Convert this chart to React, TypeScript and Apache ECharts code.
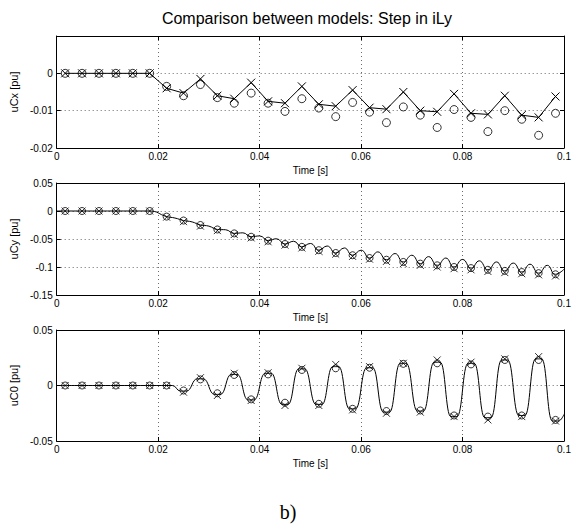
import React, { useEffect, useRef } from "react";
import * as echarts from "echarts";

const tMarks = [0.00167, 0.005, 0.00833, 0.01167, 0.015, 0.01833, 0.02167, 0.025, 0.02833, 0.03167, 0.035, 0.03833, 0.04167, 0.045, 0.04833, 0.05167, 0.055, 0.05833, 0.06167, 0.065, 0.06833, 0.07167, 0.075, 0.07833, 0.08167, 0.085, 0.08833, 0.09167, 0.095, 0.09833];

// uCx
const uCxCross = [0, 0, 0, 0, 0, 0, -0.004, -0.0053, -0.0015, -0.006, -0.0068, -0.0025, -0.0075, -0.008, -0.0035, -0.0083, -0.0088, -0.0045, -0.0092, -0.0096, -0.005, -0.01, -0.0103, -0.0055, -0.0107, -0.011, -0.006, -0.0112, -0.0118, -0.0062];
const uCxCircle = [0, 0, 0, 0, 0, 0, -0.0035, -0.006, -0.003, -0.0065, -0.008, -0.0053, -0.008, -0.0102, -0.0068, -0.0093, -0.0116, -0.0078, -0.0104, -0.0132, -0.009, -0.0112, -0.0145, -0.0097, -0.0118, -0.0156, -0.01, -0.0123, -0.0166, -0.0107];

// uCy
const uCyCircle = [0, 0, 0, 0, 0, 0, -0.01, -0.017, -0.025, -0.033, -0.04, -0.046, -0.053, -0.059, -0.064, -0.07, -0.075, -0.079, -0.084, -0.087, -0.091, -0.094, -0.097, -0.1, -0.102, -0.105, -0.107, -0.109, -0.111, -0.113];
const uCyCross = [0, 0, 0, 0, 0, 0, -0.011, -0.019, -0.027, -0.035, -0.042, -0.048, -0.055, -0.061, -0.066, -0.072, -0.077, -0.081, -0.086, -0.09, -0.094, -0.097, -0.1, -0.103, -0.105, -0.108, -0.11, -0.112, -0.114, -0.116];
const uCyLineT = [0, 0.0183, 0.0217, 0.0233, 0.025, 0.0267, 0.0283, 0.03, 0.0317, 0.0333, 0.035, 0.0367, 0.0383, 0.04, 0.0417, 0.0433, 0.045, 0.0467, 0.0483, 0.05, 0.0517, 0.0533, 0.055, 0.0567, 0.0583, 0.06, 0.0617, 0.0633, 0.065, 0.0667, 0.0683, 0.07, 0.0717, 0.0733, 0.075, 0.0767, 0.0783, 0.08, 0.0817, 0.0833, 0.085, 0.0867, 0.0883, 0.09, 0.0917, 0.0933, 0.095, 0.0967, 0.0983, 0.1];
const uCyLineV = [0, 0, -0.01, -0.0125, -0.017, -0.0195, -0.025, -0.027, -0.033, -0.0335, -0.04, -0.039, -0.046, -0.0445, -0.053, -0.0495, -0.059, -0.054, -0.064, -0.058, -0.07, -0.0625, -0.075, -0.066, -0.079, -0.07, -0.084, -0.073, -0.087, -0.076, -0.091, -0.079, -0.094, -0.0815, -0.097, -0.084, -0.1, -0.0865, -0.102, -0.089, -0.105, -0.091, -0.107, -0.093, -0.109, -0.095, -0.111, -0.097, -0.113, -0.104];

// uC0
const uC0Circle = [0, 0, 0, 0, 0, 0, 0, -0.0045, 0.0055, -0.007, 0.0095, -0.0125, 0.01, -0.0155, 0.014, -0.0165, 0.0155, -0.021, 0.016, -0.023, 0.0195, -0.0225, 0.02, -0.027, 0.019, -0.028, 0.023, -0.027, 0.023, -0.031];
const uC0Cross = [0, 0, 0, 0, 0, 0, 0, -0.006, 0.007, -0.009, 0.011, -0.0135, 0.0115, -0.018, 0.0155, -0.018, 0.019, -0.022, 0.017, -0.025, 0.02, -0.024, 0.023, -0.028, 0.021, -0.031, 0.024, -0.028, 0.026, -0.032];
const uC0LineT = [0, 0.0228, 0.0244, 0.0256, 0.0277, 0.0289, 0.0311, 0.0323, 0.0344, 0.0356, 0.0377, 0.0389, 0.0411, 0.0423, 0.0444, 0.0456, 0.0477, 0.0489, 0.0511, 0.0523, 0.0544, 0.0556, 0.0577, 0.0589, 0.0611, 0.0623, 0.0644, 0.0656, 0.0677, 0.0689, 0.0711, 0.0723, 0.0744, 0.0756, 0.0777, 0.0789, 0.0811, 0.0823, 0.0844, 0.0856, 0.0877, 0.0889, 0.0911, 0.0923, 0.0944, 0.0956, 0.0977, 0.0989, 0.1];
const uC0LineV = [0, 0, -0.005, -0.005, 0.006, 0.006, -0.008, -0.008, 0.01, 0.01, -0.013, -0.013, 0.011, 0.011, -0.017, -0.017, 0.015, 0.015, -0.017, -0.017, 0.017, 0.017, -0.021, -0.021, 0.016, 0.016, -0.024, -0.024, 0.02, 0.02, -0.023, -0.023, 0.021, 0.021, -0.028, -0.028, 0.02, 0.02, -0.029, -0.029, 0.023, 0.023, -0.027, -0.027, 0.024, 0.024, -0.032, -0.032, -0.026];

const xTicks = [0, 0.1, 0.02];
const yNames = ["uCx [pu]", "uCy [pu]", "uC0 [pu]"];
const yRanges = [
  [-0.02, 0.01, 0.01],
  [-0.15, 0.05, 0.05],
  [-0.05, 0.05, 0.05],
];

const FONT = "Liberation Sans";
const CROSS = "path://M0 0L10 10M10 0L0 10";

export default function App() {
  const ref = useRef<HTMLDivElement>(null);
  useEffect(() => {
    if (!ref.current) return;
    const chart = echarts.init(ref.current, undefined, { renderer: "svg" });
    const grids = [
      { left: 50, right: 12, top: 36, height: 112 },
      { left: 50, right: 12, top: 183, height: 112 },
      { left: 50, right: 12, top: 330, height: 111 },
    ];
    const grid = "#444";
    const xAxes: any[] = [];
    const yAxes: any[] = [];
    grids.forEach((_, i) => {
      xAxes.push({
        type: "value", gridIndex: i, min: xTicks[0], max: xTicks[1], interval: xTicks[2],
        name: "Time [s]", nameLocation: "middle", nameGap: 17,
        nameTextStyle: { fontFamily: FONT, fontSize: 10, color: "#000" },
        axisLine: { onZero: false, lineStyle: { color: "#000", width: 1 } },
        axisTick: { inside: true, length: 4, lineStyle: { color: "#000" } },
        axisLabel: { fontFamily: FONT, fontSize: 10, color: "#000", margin: 3 },
        splitLine: { show: true, lineStyle: { color: grid, type: [1, 3], width: 0.8 } },
      });
      xAxes.push({
        type: "value", gridIndex: i, min: xTicks[0], max: xTicks[1], interval: xTicks[2], position: "top",
        axisLine: { show: true, onZero: false, lineStyle: { color: "#000", width: 1 } },
        axisTick: { inside: true, length: 4, lineStyle: { color: "#000" } },
        axisLabel: { show: false }, splitLine: { show: false },
      });
      const [mn, mx, iv] = yRanges[i];
      yAxes.push({
        type: "value", gridIndex: i, min: mn, max: mx, interval: iv,
        name: yNames[i], nameLocation: "middle", nameGap: 31, nameRotate: 90,
        nameTextStyle: { fontFamily: FONT, fontSize: 11, color: "#000" },
        axisLine: { show: true, onZero: false, lineStyle: { color: "#000", width: 1 } },
        axisTick: { show: true, inside: true, length: 4, lineStyle: { color: "#000" } },
        axisLabel: {
          fontFamily: FONT, fontSize: 10, color: "#000", margin: 4,
          formatter: (v: number) => (i === 0 && v > 0.005 ? "" : String(Math.round(v * 1000) / 1000)),
        },
        splitLine: { show: true, lineStyle: { color: grid, type: [1, 3], width: 0.8 } },
      });
      yAxes.push({
        type: "value", gridIndex: i, min: mn, max: mx, interval: iv, position: "right",
        axisLine: { show: true, onZero: false, lineStyle: { color: "#000", width: 1 } },
        axisTick: { show: true, inside: true, length: 4, lineStyle: { color: "#000" } },
        axisLabel: { show: false }, splitLine: { show: false },
      });
    });

    const pairs = (t: number[], v: number[]) => t.map((x, k) => [x, v[k]]);
    const markerScatter = (i: number, vals: number[], symbol: string, size: number) => ({
      type: "scatter", xAxisIndex: i * 2, yAxisIndex: i * 2, data: pairs(tMarks, vals),
      symbol, symbolSize: size, z: 5,
      itemStyle: { color: "transparent", borderColor: "#000", borderWidth: 1 },
    });
    const lineStyle = { color: "#000", width: 1 };

    const series: any[] = [
      {
        type: "line", xAxisIndex: 0, yAxisIndex: 0, data: pairs(tMarks, uCxCross),
        symbol: CROSS, symbolSize: 8, showSymbol: true, lineStyle,
        itemStyle: { color: "transparent", borderColor: "#000", borderWidth: 1 },
      },
      markerScatter(0, uCxCircle, "circle", 8),
      {
        type: "line", xAxisIndex: 2, yAxisIndex: 2, data: pairs(uCyLineT, uCyLineV),
        symbol: "none", smooth: 0.5, lineStyle,
      },
      markerScatter(1, uCyCircle, "circle", 7),
      markerScatter(1, uCyCross, CROSS, 7),
      {
        type: "line", xAxisIndex: 4, yAxisIndex: 4, data: pairs(uC0LineT, uC0LineV),
        symbol: "none", smooth: 0.5, smoothMonotone: "x", lineStyle,
      },
      markerScatter(2, uC0Circle, "circle", 7),
      markerScatter(2, uC0Cross, CROSS, 7),
    ];

    chart.setOption({
      animation: false,
      backgroundColor: "#fff",
      grid: grids,
      xAxis: xAxes,
      yAxis: yAxes,
      series,
      graphic: [
        {
          type: "text", x: 307, y: 18,
          style: { text: "Comparison between models: Step in iLy", fontFamily: FONT, fontSize: 16, fill: "#000", textAlign: "center", textVerticalAlign: "middle" },
        },
        {
          type: "text", x: 288, y: 512,
          style: { text: "b)", fontFamily: "Liberation Serif", fontSize: 20, fill: "#000", textAlign: "center", textVerticalAlign: "middle" },
        },
      ],
    });
    return () => chart.dispose();
  }, []);
  return <div ref={ref} style={{ position: "absolute", left: 0, top: 0, width: 576, height: 531 }} />;
}
